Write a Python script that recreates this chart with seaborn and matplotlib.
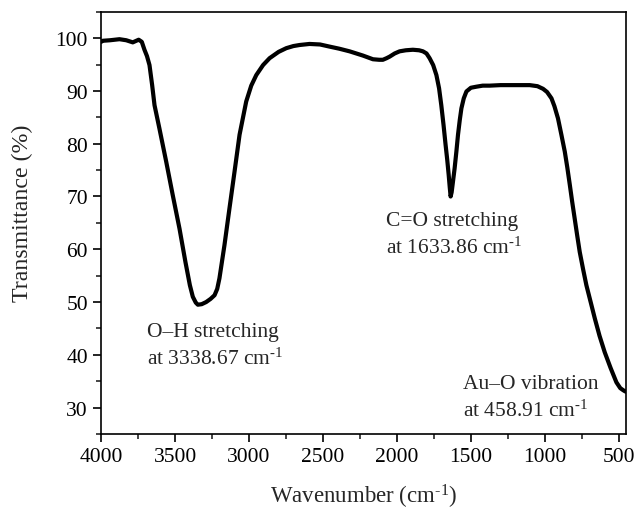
import matplotlib
matplotlib.use("Agg")
import matplotlib.pyplot as plt
import seaborn as sns
from matplotlib.ticker import MultipleLocator

wavenumber = [4000, 3989, 3940, 3876, 3830, 3786, 3746, 3725, 3707, 3690, 3673, 3655,
              3639, 3606, 3560, 3516, 3470, 3430, 3400, 3380, 3360, 3346, 3320, 3290, 3260,
              3233, 3215, 3200, 3166, 3132, 3098, 3064, 3019, 2985, 2951, 2905, 2861,
              2800, 2748, 2700, 2658, 2591, 2520, 2456, 2390, 2320, 2230, 2162, 2120,
              2095, 2070, 2049, 2015, 1982, 1940, 1892, 1850, 1824, 1800, 1779, 1755,
              1733, 1715, 1700, 1685, 1671, 1660, 1650, 1643, 1637, 1630, 1622, 1610,
              1598, 1587, 1575, 1564, 1548, 1530, 1500, 1463, 1420, 1373, 1300, 1200,
              1102, 1050, 1012, 985, 955, 935, 911, 888, 865, 848, 831, 815, 798, 781,
              764, 741, 719, 690, 662, 630, 595, 555, 516, 490, 470, 458, 450]
transmittance = [99.3, 99.5, 99.6, 99.8, 99.6, 99.2, 99.7, 99.3, 97.8, 96.6, 94.9, 91.1,
                 87.3, 82.9, 76.6, 70.3, 63.9, 57.6, 53.2, 51.0, 49.9, 49.5, 49.6, 50.0, 50.6,
                 51.3, 52.5, 54.5, 60.8, 67.8, 74.7, 81.7, 88.0, 91.0, 93.0, 94.9, 96.2,
                 97.4, 98.1, 98.5, 98.7, 98.9, 98.8, 98.4, 98.0, 97.5, 96.7, 96.0, 95.9,
                 95.9, 96.2, 96.5, 97.1, 97.5, 97.7, 97.8, 97.7, 97.5, 97.1, 96.2, 94.9,
                 93.0, 90.5, 87.3, 83.6, 79.8, 77.0, 74.1, 71.8, 70.0, 70.8, 72.6, 75.3,
                 78.5, 81.7, 84.5, 86.7, 88.6, 89.9, 90.6, 90.8, 91.0, 91.0, 91.1, 91.1,
                 91.1, 90.9, 90.4, 89.8, 88.6, 87.1, 84.8, 81.7, 78.5, 75.5, 72.2, 69.0,
                 65.8, 62.6, 59.5, 56.2, 53.2, 50.0, 46.9, 43.6, 40.5, 37.5, 34.8, 33.7,
                 33.3, 33.1, 33.0]

x_ticks = [4000, 3500, 3000, 2500, 2000, 1500, 1000, 500]
y_ticks = [30, 40, 50, 60, 70, 80, 90, 100]

sns.set_style("ticks")
plt.rcParams["font.family"] = ["Liberation Serif", "DejaVu Serif"]
plt.rcParams["mathtext.fontset"] = "custom"
plt.rcParams["mathtext.rm"] = "Liberation Serif"
plt.rcParams["mathtext.it"] = "Liberation Serif:italic"

fig = plt.figure(figsize=(6.36, 5.10), dpi=100)
ax = fig.add_axes([0.159, 0.147, 0.826, 0.828])

sns.lineplot(x=wavenumber, y=transmittance, color="black", linewidth=3.0, ax=ax)

ax.set_xlim(4000, 448)
ax.set_ylim(25, 105)
ax.set_xticks(x_ticks)
ax.set_yticks(y_ticks)
ax.xaxis.set_minor_locator(MultipleLocator(250))
ax.yaxis.set_minor_locator(MultipleLocator(5))
ax.tick_params(axis="both", which="major", direction="out", length=6, width=1.2,
               labelsize=15.5, colors="black")
ax.tick_params(axis="both", which="minor", direction="out", length=3.5, width=1.2)
for s in ax.spines.values():
    s.set_visible(True)
    s.set_linewidth(1.2)
    s.set_color("black")

sup = r"$^{\text{-1}}$"
ax.set_xlabel("Wavenumber (cm" + sup + ")", fontsize=16.5, labelpad=11)
ax.set_ylabel("Transmittance (%)", fontsize=17.2)
ax.yaxis.set_label_coords(-0.13, 0.526)

ann_fs = 15.5
ax.text(3690, 46.2, "O\u2013H stretching\nat 3338.67 cm" + sup,
        ha="left", va="top", fontsize=ann_fs, linespacing=1.4)
ax.text(2077, 67.2, "C=O stretching\nat 1633.86 cm" + sup,
        ha="left", va="top", fontsize=ann_fs, linespacing=1.4)
ax.text(1555, 36.4, "Au\u2013O vibration\nat 458.91 cm" + sup,
        ha="left", va="top", fontsize=ann_fs, linespacing=1.4)

fig.savefig("out.png", dpi=100)
